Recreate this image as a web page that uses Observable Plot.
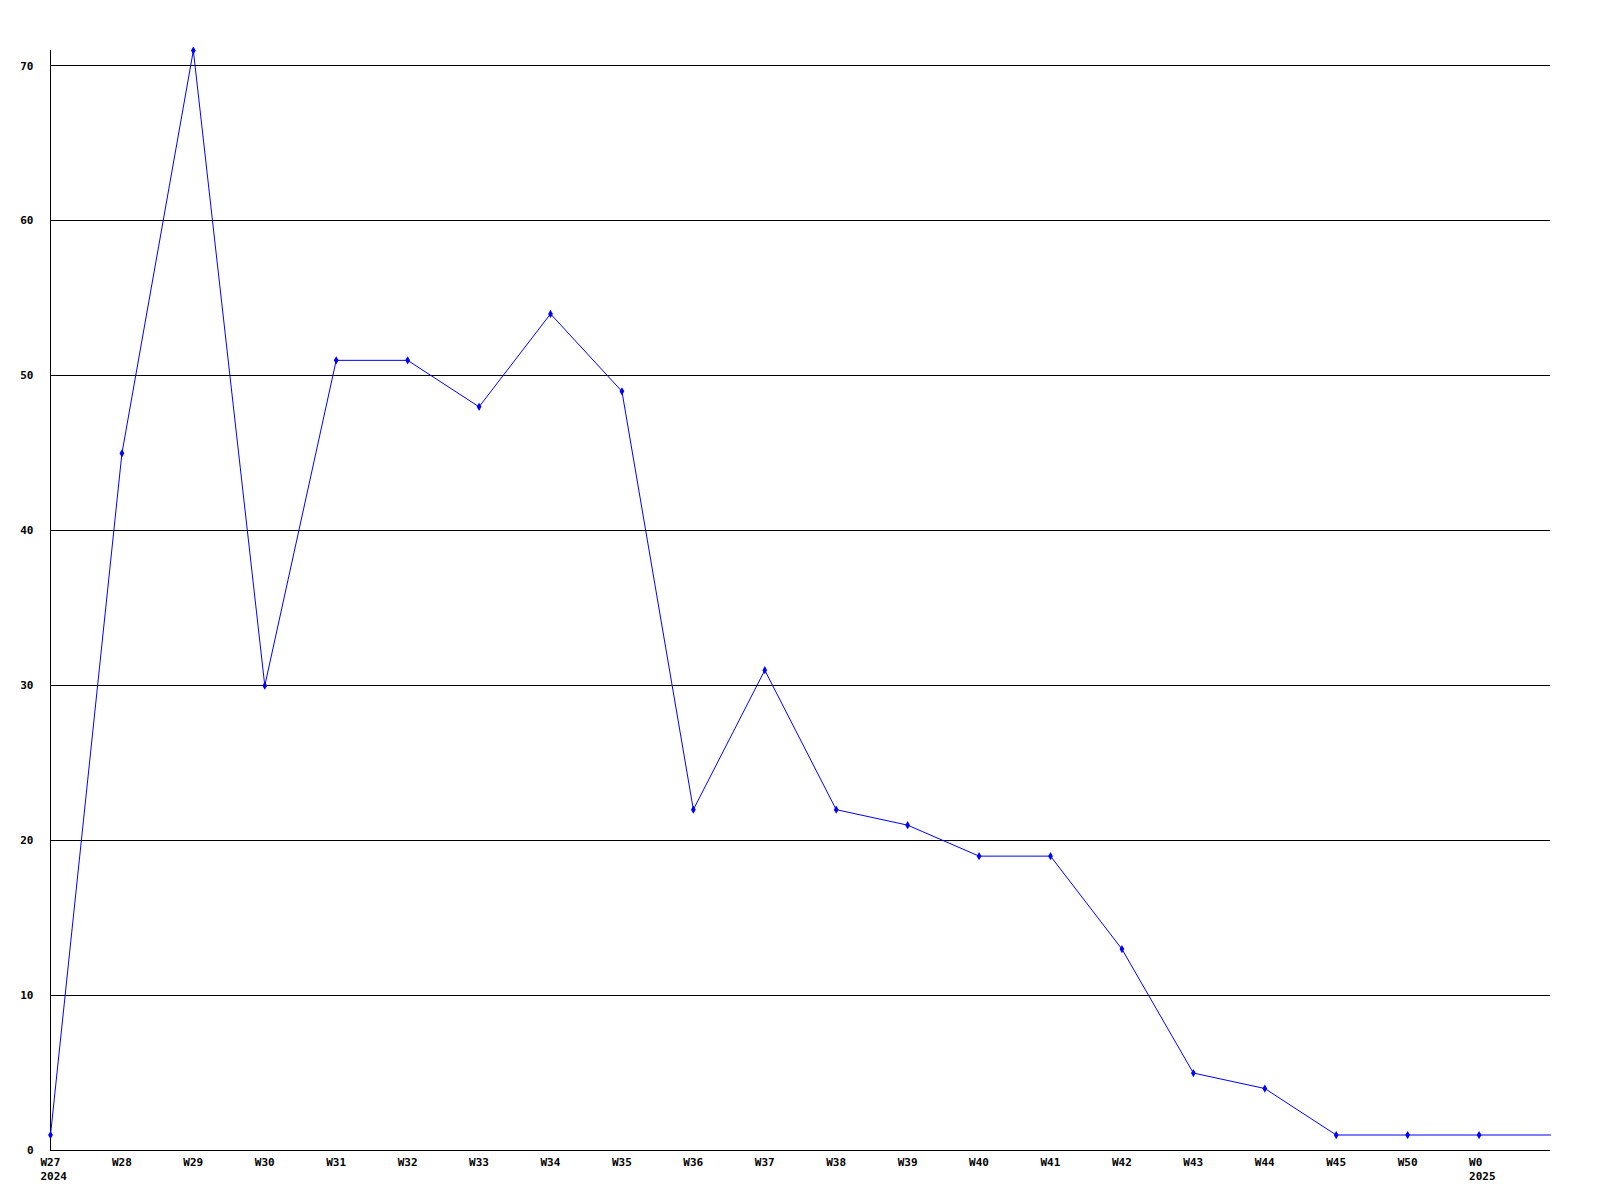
<!DOCTYPE html>
<html>
<head>
<meta charset="utf-8">
<script src="https://cdn.jsdelivr.net/npm/d3@7"></script>
<script src="https://cdn.jsdelivr.net/npm/@observablehq/plot@0.6"></script>
<style>
  html, body { margin: 0; padding: 0; background: #fff; }
  svg { display: block; }
</style>
</head>
<body>
<div id="chart"></div>
<script>
// Week labels (the last slot is the unlabeled end of the axis)
const weeks = ["W27","W28","W29","W30","W31","W32","W33","W34","W35","W36","W37","W38","W39","W40","W41","W42","W43","W44","W45","W50","W0",""];
// Year labels shown under some weeks
const years = ["2024","","","","","","","","","","","","","","","","","","","","2025",""];
// Weekly counts (the line continues flat to the axis end)
const counts = [1,45,71,30,51,51,48,54,49,22,31,22,21,19,19,13,5,4,1,1,1,1];
// Y tick values
const yTicks = [0,10,20,30,40,50,60,70];

const data = weeks.map((w, i) => ({i, week: w, year: years[i], value: counts[i]}));
const labelled = data.filter(d => d.week !== "");

const font = "'DejaVu Sans Mono', 'Liberation Mono', monospace";

const chart = Plot.plot({
  width: 1600,
  height: 1200,
  marginLeft: 50,
  marginRight: 50,
  marginTop: 50,
  marginBottom: 50,
  x: {type: "linear", domain: [0, 21], axis: null},
  y: {domain: [0, 71], axis: null},
  style: {fontFamily: font, fontSize: "11px", fontWeight: "bold", background: "#fff", color: "#000"},
  marks: [
    Plot.ruleY(yTicks.filter(v => v > 0), {stroke: "#000", strokeWidth: 1, shapeRendering: "crispEdges"}),
    Plot.ruleY([0], {stroke: "#000", strokeWidth: 1, shapeRendering: "crispEdges"}),
    Plot.ruleX([0], {y1: 0, y2: 71, stroke: "#000", strokeWidth: 1, shapeRendering: "crispEdges"}),
    Plot.line(data, {x: "i", y: "value", stroke: "#0000ff", strokeWidth: 1}),
    Plot.dot(labelled, {x: "i", y: "value", symbol: "diamond", r: 2.5, fill: "#0000ff", stroke: "none"}),
    Plot.text(yTicks, {x: 0, y: d => d, text: d => String(d), textAnchor: "end", dx: -17, fill: "#000"}),
    Plot.text(labelled, {
      x: "i", y: 0,
      text: d => d.year ? d.week + "\n" + d.year : d.week,
      textAnchor: "start", lineAnchor: "top", lineHeight: 1.3,
      dx: -10, dy: 5, fill: "#000"
    })
  ]
});
document.getElementById("chart").appendChild(chart);
</script>
</body>
</html>
